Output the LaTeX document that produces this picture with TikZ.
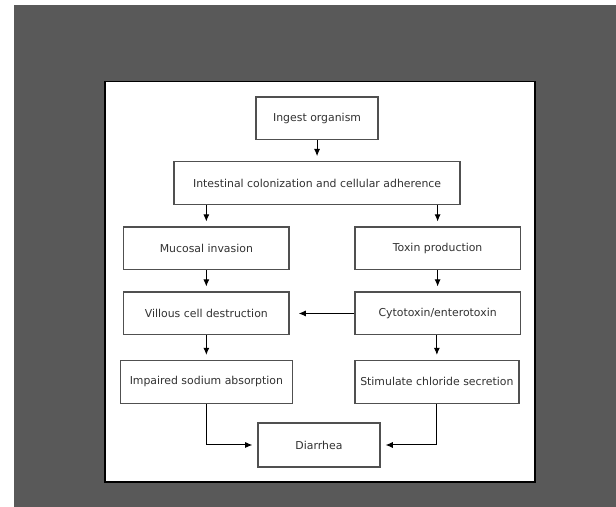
\documentclass[tikz,border=0pt]{standalone}
\usepackage{fontspec}
\setmainfont{DejaVu Sans}
\usetikzlibrary{arrows.meta}
\definecolor{bggray}{RGB}{89,89,89}
\definecolor{boxgray}{RGB}{80,80,80}
\definecolor{txtgray}{RGB}{50,50,50}
\tikzset{
    every node/.style={rectangle, draw=boxgray, line width=1pt, minimum height=1.13cm, minimum width=4.37cm, inner sep=0mm, text=txtgray, font=\fontsize{8.2}{9.5}\selectfont}
}
\tikzset{flow/.style={line width=0.75pt, -{Latex[length=1.9mm, width=1.6mm]}, shorten >=0.13cm}}

\begin{document}
\begin{tikzpicture}
    \fill[white] (0cm, 0cm) rectangle (16.30cm, 13.415cm);
    \fill[bggray] (0.37cm, 0cm) rectangle (16.30cm, 13.28cm);
    \filldraw[fill=white, draw=black, line width=1pt] (2.78cm, 0.66cm) rectangle (14.16cm, 11.25cm);

    \node (ingest) at (8.39cm, 10.28cm) [minimum width=3.23cm] {Ingest organism};
    \node (colon) at (8.39cm, 8.57cm) [minimum width=7.57cm] {Intestinal colonization and cellular adherence};
    \node (mucosal) at (5.46cm, 6.84cm) {Mucosal invasion};
    \node (toxin) at (11.58cm, 6.84cm) {Toxin production};
    \node (villous) at (5.46cm, 5.12cm) {Villous cell destruction};
    \node (cyto) at (11.58cm, 5.12cm) {Cytotoxin/enterotoxin};
    \node (sodium) at (5.46cm, 3.31cm) [minimum width=4.55cm] {Impaired sodium absorption};
    \node (chloride) at (11.56cm, 3.31cm) [minimum width=4.34cm] {Stimulate chloride secretion};
    \node (diarrhea) at (8.44cm, 1.64cm) [minimum width=3.23cm, minimum height=1.16cm] {Diarrhea};

    \draw (ingest) edge [flow] (colon);
    \draw (colon.south -| mucosal.north) edge [flow] (mucosal);
    \draw (colon.south -| toxin.north) edge [flow] (toxin);
    \draw (mucosal) edge [flow] (villous);
    \draw (toxin) edge [flow] (cyto);
    \draw (cyto) edge [flow, shorten >=0.24cm] (villous);
    \draw (villous) edge [flow] (sodium);
    \draw (cyto.south -| chloride.north) edge [flow] (chloride);
    \draw [flow] (sodium) |- (diarrhea);
    \draw [flow] (chloride) |- (diarrhea);
\end{tikzpicture}
\end{document}
